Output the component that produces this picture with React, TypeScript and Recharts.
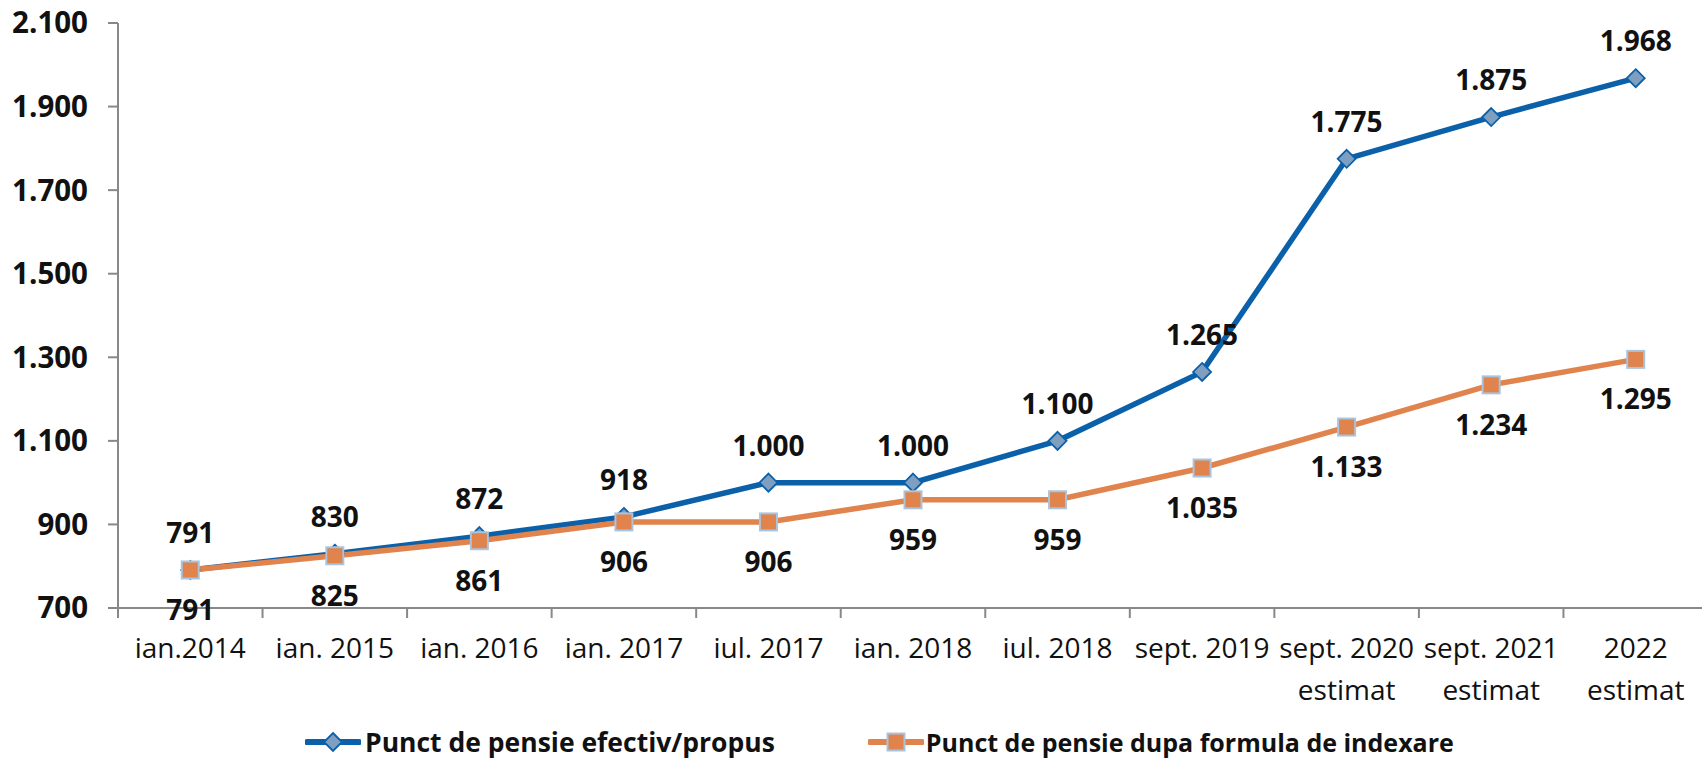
import React from 'react';
import { LineChart, Line, XAxis, YAxis, Legend, LabelList } from 'recharts';

// categorii (axa X) - cele cu doua randuri sunt separate prin \n
const categories = [
  'ian.2014',
  'ian. 2015',
  'ian. 2016',
  'ian. 2017',
  'iul. 2017',
  'ian. 2018',
  'iul. 2018',
  'sept. 2019',
  'sept. 2020\nestimat',
  'sept. 2021\nestimat',
  '2022\nestimat',
];

const efectiv = [791, 830, 872, 918, 1000, 1000, 1100, 1265, 1775, 1875, 1968];
const indexare = [791, 825, 861, 906, 906, 959, 959, 1035, 1133, 1234, 1295];

const yTicks = [700, 900, 1100, 1300, 1500, 1700, 1900, 2100];

const seriesNames = ['Punct de pensie efectiv/propus', 'Punct de pensie dupa formula de indexare'];

const BLUE = '#0B60AA';
const DIAMOND_FILL = '#7F9FC0';
const ORANGE = '#E0834C';
const SQUARE_STROKE = '#A8C4DE';
const AXIS = '#888888';
const FONT = '"Open Sans", "DejaVu Sans", sans-serif';

const data = categories.map((name, i) => ({
  i,
  name,
  efectiv: efectiv[i],
  indexare: indexare[i],
}));

// tick-uri la mijlocul categoriilor (etichete) si la granite (liniute)
const xTicks: number[] = [];
for (let i = 0; i <= categories.length; i++) {
  xTicks.push(i - 0.5);
  if (i < categories.length) xTicks.push(i);
}

const fmt = (v: number) => {
  if (v < 1000) return String(v);
  const th = Math.floor(v / 1000);
  const rest = String(v % 1000).padStart(3, '0');
  return `${th}.${rest}`;
};

const XTick = (props: any) => {
  const { x, y, payload } = props;
  const v = payload.value as number;
  if (!Number.isInteger(v)) {
    return <line x1={x} x2={x} y1={y} y2={y + 10} stroke={AXIS} strokeWidth={2} />;
  }
  const lines = categories[v].split('\n');
  return (
    <text x={x} y={y} textAnchor="middle" fontFamily={FONT} fontSize={28} fill="#111">
      {lines.map((l, k) => (
        <tspan key={k} x={x} y={y + 50 + k * 42}>
          {l}
        </tspan>
      ))}
    </text>
  );
};

const Diamond = (props: any) => {
  const { cx, cy } = props;
  if (cx == null || cy == null) return <g />;
  const r = 9;
  return (
    <path
      d={`M${cx},${cy - r}L${cx + r},${cy}L${cx},${cy + r}L${cx - r},${cy}Z`}
      fill={DIAMOND_FILL}
      stroke={BLUE}
      strokeWidth={1.8}
    />
  );
};

const Square = (props: any) => {
  const { cx, cy } = props;
  if (cx == null || cy == null) return <g />;
  const s = 8.5;
  return (
    <rect x={cx - s} y={cy - s} width={s * 2} height={s * 2} fill={ORANGE} stroke={SQUARE_STROKE} strokeWidth={2} />
  );
};

const makeLabel = (dy: number) => (props: any) => {
  const { x, y, value } = props;
  return (
    <text
      x={x}
      y={y + dy}
      textAnchor="middle"
      dominantBaseline="central"
      fontFamily={FONT}
      fontWeight={700}
      fontSize={28}
      fill="#111"
    >
      {fmt(value)}
    </text>
  );
};

const LegendContent = () => (
  <div
    style={{
      display: 'flex',
      alignItems: 'center',
      height: 36,
      paddingLeft: 305,
      fontFamily: FONT,
      fontWeight: 700,
      fontSize: 26.5,
      color: '#111',
      whiteSpace: 'nowrap',
    }}
  >
    <svg width={56} height={22} style={{ marginRight: 4 }}>
      <line x1={2} x2={54} y1={11} y2={11} stroke={BLUE} strokeWidth={6} strokeLinecap="round" />
      <path d="M28,2L37,11L28,20L19,11Z" fill={DIAMOND_FILL} stroke={BLUE} strokeWidth={1.8} />
    </svg>
    <span>{seriesNames[0]}</span>
    <svg width={56} height={22} style={{ marginLeft: 93, marginRight: 2 }}>
      <line x1={2} x2={54} y1={11} y2={11} stroke={ORANGE} strokeWidth={6} strokeLinecap="round" />
      <rect x={19.5} y={2.5} width={17} height={17} fill={ORANGE} stroke={SQUARE_STROKE} strokeWidth={2} />
    </svg>
    <span style={{ fontSize: 25 }}>{seriesNames[1]}</span>
  </div>
);

export default function App() {
  return (
    <div style={{ position: 'absolute', left: 0, top: 0, width: 1702, height: 760, overflow: 'hidden', background: '#fff' }}>
      <LineChart width={1708} height={760} data={data} margin={{ top: 23, right: 0, bottom: 0, left: 0 }}>
        <XAxis
          dataKey="i"
          type="number"
          domain={[-0.5, categories.length - 0.5]}
          ticks={xTicks}
          interval={0}
          tick={<XTick />}
          tickLine={false}
          tickSize={0}
          tickMargin={0}
          axisLine={{ stroke: AXIS, strokeWidth: 2 }}
          height={116}
        />
        <YAxis
          domain={[700, 2100]}
          ticks={yTicks}
          interval={0}
          width={118}
          tickSize={10}
          tickMargin={20}
          tickFormatter={fmt}
          tickLine={{ stroke: AXIS, strokeWidth: 2 }}
          axisLine={{ stroke: AXIS, strokeWidth: 2 }}
          tick={{ fontFamily: FONT, fontWeight: 700, fontSize: 29.5, fill: '#111' }}
        />
        <Legend verticalAlign="bottom" height={36} content={<LegendContent />} />
        <Line
          dataKey="efectiv"
          name={seriesNames[0]}
          type="linear"
          stroke={BLUE}
          strokeWidth={5.5}
          dot={<Diamond />}
          activeDot={false}
          isAnimationActive={false}
        >
          <LabelList dataKey="efectiv" content={makeLabel(-38)} />
        </Line>
        <Line
          dataKey="indexare"
          name={seriesNames[1]}
          type="linear"
          stroke={ORANGE}
          strokeWidth={5.5}
          dot={<Square />}
          activeDot={false}
          isAnimationActive={false}
        >
          <LabelList dataKey="indexare" content={makeLabel(39)} />
        </Line>
      </LineChart>
    </div>
  );
}
